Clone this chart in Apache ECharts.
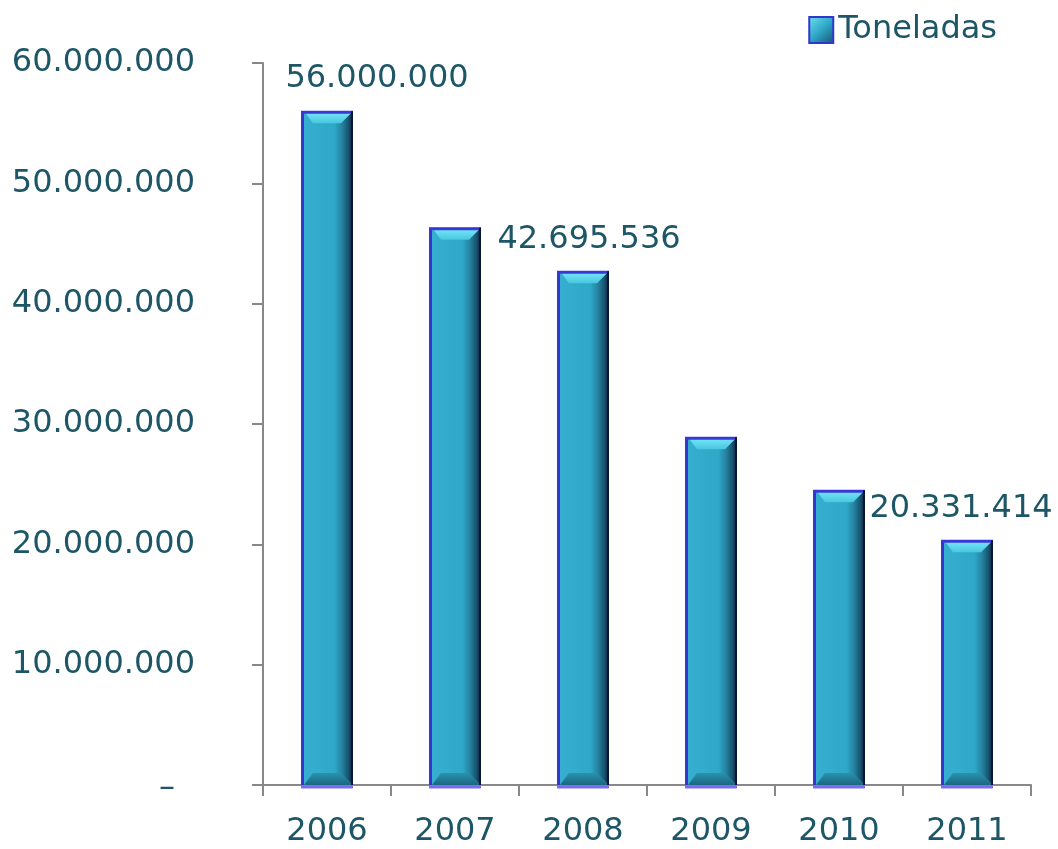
<!DOCTYPE html>
<html>
<head>
<meta charset="utf-8">
<script src="https://cdn.jsdelivr.net/npm/echarts@6/dist/echarts.min.js"></script>
<style>html,body{margin:0;padding:0;background:#fff}#c{width:1058px;height:849px}</style>
</head>
<body>
<div id="c"></div>
<script>
const categories = ['2006', '2007', '2008', '2009', '2010', '2011'];
const toneladas = [56000000, 46300000, 42695536, 28900000, 24500000, 20331414];
const labelShown = [true, false, true, false, false, true];
const yTicks = [0, 10000000, 20000000, 30000000, 40000000, 50000000, 60000000];

const TEXT = '#1d5666';
const FONT = 'DejaVu Sans';
const FS = 32;
const BAR_RATIO = 0.406;
const labelOffsets = [[50, 0], [0, 0], [6, 0], [0, 0], [0, 0], [-6, 0]];

function fmt(v) {
  if (v === 0) return '{dash|–}';
  return String(Math.round(v)).replace(/\B(?=(\d{3})+(?!\d))/g, '.');
}

const barGradient = new echarts.graphic.LinearGradient(0, 0, 1, 0, [
  {offset: 0, color: '#3434cf'},
  {offset: 0.05, color: '#3434cf'},
  {offset: 0.065, color: '#35aed0'},
  {offset: 0.65, color: '#2fa7c7'},
  {offset: 0.8, color: '#237f9c'},
  {offset: 0.92, color: '#17506c'},
  {offset: 1, color: '#0c1c3a'}
]);

const chart = echarts.init(document.getElementById('c'), null, {renderer: 'canvas'});
chart.setOption({
  animation: false,
  textStyle: {fontFamily: FONT},
  legend: {
    data: ['Toneladas'],
    top: 9,
    right: 56,
    itemWidth: 24,
    itemHeight: 26,
    itemGap: 8,
    icon: 'rect',
    textStyle: {color: TEXT, fontSize: FS, fontFamily: FONT},
    itemStyle: {color: new echarts.graphic.LinearGradient(0, 0, 1, 1, [
      {offset: 0, color: '#6de3f3'}, {offset: 0.5, color: '#2fa7c7'}, {offset: 1, color: '#17506c'}
    ]), borderColor: '#3434cf', borderWidth: 2}
  },
  grid: {left: 263, right: 27, top: 63, bottom: 64, containLabel: false},
  xAxis: {
    type: 'category',
    data: categories,
    axisLine: {lineStyle: {color: '#888', width: 2}},
    axisTick: {show: true, alignWithLabel: false, length: 11, lineStyle: {color: '#888', width: 2}},
    axisLabel: {color: TEXT, fontSize: FS, fontFamily: FONT, margin: 31}
  },
  yAxis: {
    type: 'value',
    min: yTicks[0],
    max: yTicks[yTicks.length - 1],
    interval: yTicks[1] - yTicks[0],
    splitLine: {show: false},
    axisLine: {show: true, lineStyle: {color: '#888', width: 2}},
    axisTick: {show: true, length: 11, lineStyle: {color: '#888', width: 2}},
    axisLabel: {
      color: TEXT, fontSize: FS, fontFamily: FONT, margin: 68, formatter: fmt,
      rich: {dash: {color: TEXT, fontSize: FS, fontFamily: FONT, padding: [8, 20, 0, 0]}}
    }
  },
  series: [
    {
      name: 'Toneladas',
      type: 'bar',
      barWidth: (BAR_RATIO * 100) + '%',
      data: toneladas.map((v, i) => ({
        value: v,
        label: {
          show: labelShown[i],
          position: 'top',
          distance: 16,
          offset: labelOffsets[i],
          color: TEXT,
          fontSize: FS,
          fontFamily: FONT,
          formatter: p => fmt(p.value)
        }
      })),
      itemStyle: {color: barGradient},
      z: 2
    },
    {
      type: 'custom',
      silent: true,
      z: 3,
      data: toneladas.map((v, i) => [i, v]),
      renderItem: function (params, api) {
        const top = api.coord([api.value(0), api.value(1)]);
        const base = api.coord([api.value(0), 0]);
        const w = api.size([1, 0])[0] * BAR_RATIO;
        const l = top[0] - w / 2, r = top[0] + w / 2;
        const t = top[1], b = base[1];
        const bv = 12;
        return {
          type: 'group',
          children: [
            {
              type: 'polygon',
              shape: {points: [[l + 3, t], [r, t], [r - bv, t + bv], [l + bv, t + bv]]},
              style: {fill: new echarts.graphic.LinearGradient(0, 0, 0, 1, [
                {offset: 0, color: '#7aeafa'}, {offset: 1, color: '#48c6e0'}
              ])}
            },
            {
              type: 'polygon',
              shape: {points: [[l + 3, b], [r, b], [r - bv, b - bv], [l + bv, b - bv]]},
              style: {fill: new echarts.graphic.LinearGradient(0, 0, 0, 1, [
                {offset: 0, color: '#2a92ae'}, {offset: 1, color: '#1d6680'}
              ])}
            },
            {
              type: 'line',
              shape: {x1: l, y1: t + 1, x2: r, y2: t + 1},
              style: {stroke: '#3838d8', lineWidth: 3}
            },
            {
              type: 'line',
              shape: {x1: l, y1: b + 2, x2: r, y2: b + 2},
              style: {stroke: '#7a6cf0', lineWidth: 3}
            },
            {
              type: 'line',
              shape: {x1: r - 1, y1: t, x2: r - 1, y2: b},
              style: {stroke: '#0a1636', lineWidth: 2}
            }
          ]
        };
      }
    }
  ]
});
</script>
</body>
</html>
